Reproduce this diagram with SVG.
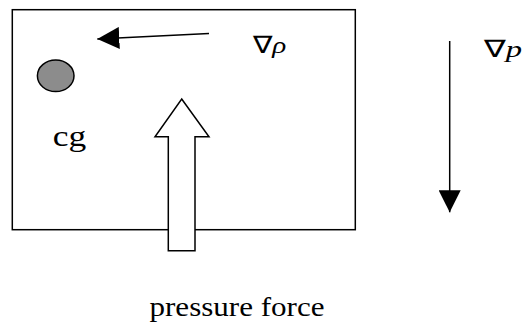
<svg xmlns="http://www.w3.org/2000/svg" width="523" height="322" viewBox="0 0 523 322">
  <style>
    .ln { stroke: #000; stroke-width: 1.5; fill: none; }
    .it { font-style: italic; }
  </style>
  <defs>
    <marker id="head" markerUnits="userSpaceOnUse" markerWidth="22" markerHeight="22" viewBox="0 0 20 20" refX="20" refY="10" orient="auto">
      <polygon points="0,0 20,10 0,20" fill="#000"/>
    </marker>
  </defs>
  <rect width="523" height="322" fill="#fff"/>

  <g id="box">
    <rect class="ln" x="12.3" y="9.7" width="343" height="220"/>
  </g>

  <g id="cg-particle" font-family="'Liberation Serif', serif">
    <ellipse cx="55.7" cy="75.8" rx="18.3" ry="15.8" fill="#8c8c8c" stroke="#000" stroke-width="1.5"/>
    <text x="52.8" y="146" font-size="30" textLength="33.5" lengthAdjust="spacingAndGlyphs">cg</text>
  </g>

  <g id="grad-rho-label" font-family="'Liberation Serif', serif">
    <text x="252.7" y="52.8" font-size="24" textLength="33.5" lengthAdjust="spacingAndGlyphs">∇<tspan class="it">ρ</tspan></text>
  </g>

  <g id="grad-p-label" font-family="'Liberation Serif', serif">
    <text x="484" y="57" font-size="24" textLength="38" lengthAdjust="spacingAndGlyphs">∇<tspan class="it">p</tspan></text>
  </g>

  <g id="pressure-force" font-family="'Liberation Serif', serif">
    <polygon stroke="#000" stroke-width="1.5" fill="#fff" points="181.7,99 209,136.7 195,136.7 195,250.7 168.3,250.7 168.3,136.7 155,136.7"/>
    <text x="149.5" y="315.5" font-size="27" textLength="175" lengthAdjust="spacingAndGlyphs">pressure force</text>
  </g>

  <g id="connectors">
    <line class="ln" x1="209" y1="33.5" x2="97.3" y2="39" marker-end="url(#head)"/>
    <line class="ln" x1="449.7" y1="41" x2="449.7" y2="212.3" marker-end="url(#head)"/>
  </g>
</svg>
